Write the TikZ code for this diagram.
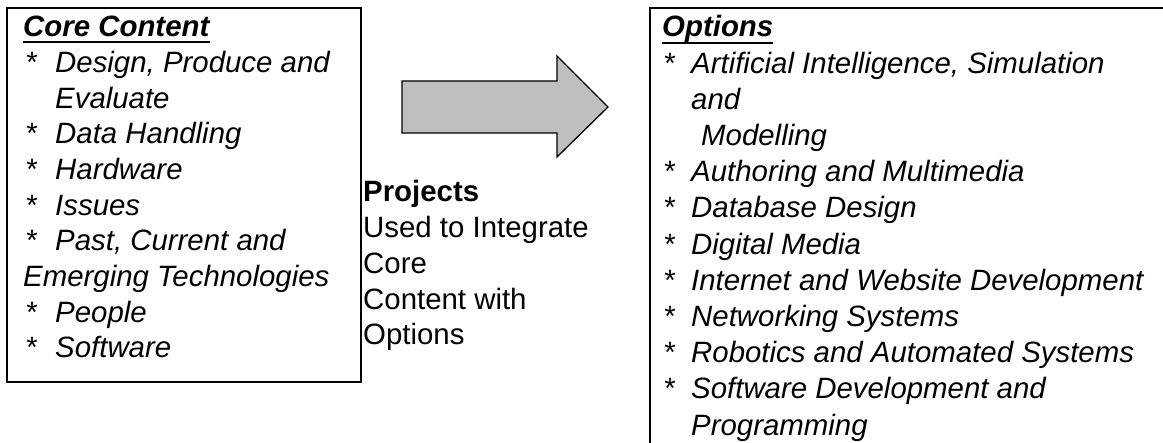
\documentclass[tikz,border=0pt]{standalone}
\usepackage{fontspec}
\setmainfont{Liberation Sans}
\begin{document}
\begin{tikzpicture}[x=1pt,y=-1pt,
  txt/.style={anchor=base west, inner sep=0pt, font=\fontsize{29.4}{35}\selectfont\itshape},
  plain/.style={anchor=base west, inner sep=0pt, font=\fontsize{29.4}{35}\selectfont},
  head/.style={anchor=base west, inner sep=0pt, font=\fontsize{29.4}{35}\selectfont\bfseries\itshape},
  boxline/.style={line width=2pt, draw=black},
  uline/.style={line width=2.2pt},
  bigarrow/.style={fill=black!25, draw=black, line width=1.3pt, line join=miter}]
\useasboundingbox (0,0) rectangle (1163,443);
\begin{scope}
\clip (0,0) rectangle (1163,443);
% left box
\draw[boxline] (7,8) rectangle (361,382);
% right box (extends beyond the picture)
\draw[boxline] (1170,8) -- (650,8) -- (650,450);
\end{scope}
% arrow
\draw[bigarrow] (402,81) -- (557,81) -- (557,56) -- (608,107) -- (557,157) -- (557,133) -- (402,133) -- cycle;

% left list
\node[head] (ct) at (23,37) {Core Content};
\draw[uline] ([yshift=-5pt]ct.base west) -- ([yshift=-5pt]ct.base east);
\foreach \n/\y in {s1/72.7, s3/144.0, s4/179.7, s5/215.3, s6/251.0, s8/322.3, s9/358.0}
  \node[txt] (\n) at (25,\y) {*};
\node[txt] (l1) at (55,72.7) {Design, Produce and};
\node[txt] (l2) at (55,108.3) {Evaluate};
\node[txt] (l3) at (55,144.0) {Data Handling};
\node[txt] (l4) at (55,179.7) {Hardware};
\node[txt] (l5) at (55,215.3) {Issues};
\node[txt] (l6) at (55,251.0) {Past, Current and};
\node[txt] (l7) at (23,286.7) {Emerging Technologies};
\node[txt] (l8) at (55,322.3) {People};
\node[txt] (l9) at (55,358.0) {Software};

% projects
\node[plain, font=\fontsize{29.4}{35}\selectfont\bfseries] (p0) at (363,201.7) {Projects};
\node[plain] (p1) at (363,237.5) {Used to Integrate};
\node[plain] (p2) at (363,273.3) {Core};
\node[plain] (p3) at (363,309.1) {Content with};
\node[plain] (p4) at (363,344.9) {Options};

% right list
\node[head] (op) at (662,37) {Options};
\draw[uline] ([yshift=-6pt]op.base west) -- ([yshift=-6pt]op.base east);
\foreach \n/\y in {r1/73.2, r4/181.8, r5/218.0, r6/254.2, r7/290.4, r8/326.6, r9/362.8, r10/399.0}
  \node[txt] (\n) at (663,\y) {*};
\node[txt] (o1) at (691,73.2) {Artificial Intelligence, Simulation};
\node[txt] (o2) at (691,109.4) {and};
\node[txt] (o3) at (701,145.6) {Modelling};
\node[txt] (o4) at (691,181.8) {Authoring and Multimedia};
\node[txt] (o5) at (691,218.0) {Database Design};
\node[txt] (o6) at (691,254.2) {Digital Media};
\node[txt] (o7) at (691,290.4) {Internet and Website Development};
\node[txt] (o8) at (691,326.6) {Networking Systems};
\node[txt] (o9) at (691,362.8) {Robotics and Automated Systems};
\node[txt] (o10) at (691,399.0) {Software Development and};
\node[txt] (o11) at (691,435.2) {Programming};
\end{tikzpicture}
\end{document}
